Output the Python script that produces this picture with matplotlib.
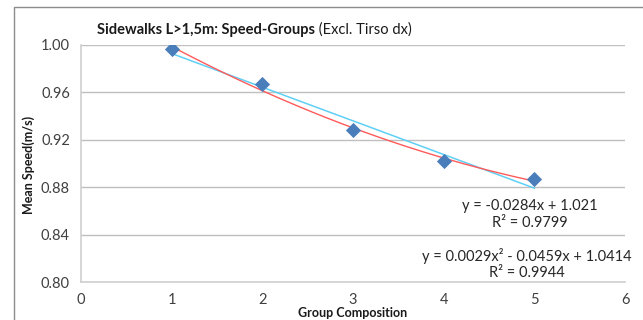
import numpy as np
import matplotlib.pyplot as plt
from matplotlib.patches import Rectangle

# data
group_sizes = [1, 2, 3, 4, 5]
mean_speed = [0.9964, 0.9668, 0.9280, 0.9020, 0.8868]

lin_label = 'y = -0.0284x + 1.021\nR² = 0.9799'
quad_label = 'y = 0.0029x² - 0.0459x + 1.0414\nR² = 0.9944'

x_ticks = [0, 1, 2, 3, 4, 5, 6]
y_ticks = [0.80, 0.84, 0.88, 0.92, 0.96, 1.00]

plt.rcParams['font.family'] = ['Lato', 'DejaVu Sans']

fig = plt.figure(figsize=(6.43, 3.2), dpi=100)
ax = fig.add_axes([81 / 643, 1 - 282 / 320, 544 / 643, 237 / 320])

# outer chart border (cut off at right and bottom like the source)
fig.patches.append(Rectangle((14 / 643, -0.1), 1.2, 1 - 7 / 320 + 0.1,
                             transform=fig.transFigure, fill=False,
                             edgecolor='#8c8c8c', linewidth=1.0))

# trendlines
xs = np.linspace(1, 5, 100)
lin = np.polyfit(group_sizes, mean_speed, 1)
quad = np.polyfit(group_sizes, mean_speed, 2)
ax.plot(xs, np.polyval(lin, xs), color='#5fd0f5', linewidth=1.1, zorder=3)
ax.plot(xs, np.polyval(quad, xs), color='#ff5a5a', linewidth=1.0, zorder=4)
ax.scatter(group_sizes, mean_speed, marker='D', s=60, color='#4a7ebb',
           zorder=5, linewidths=0)

ax.set_xlim(0, 6)
ax.set_ylim(0.80, 1.00)
ax.set_xticks(x_ticks)
ax.set_yticks(y_ticks)
ax.set_yticklabels(['%.2f' % v for v in y_ticks])
ax.tick_params(length=0, labelsize=10.5, colors='#404040', pad=8)
ax.grid(axis='y', color='#bfbfbf', linewidth=1.0)
ax.set_axisbelow(True)
for side in ['top', 'right']:
    ax.spines[side].set_visible(False)
for side in ['left', 'bottom']:
    ax.spines[side].set_color('#d0d0d0')
    ax.spines[side].set_linewidth(1.2)

ax.text(4.95, 0.857, lin_label, ha='center', va='center', fontsize=10.5,
        color='#262626', linespacing=1.25)
ax.text(4.92, 0.8152, quad_label, ha='center', va='center', fontsize=10.5,
        color='#262626', linespacing=1.25)

fig.text(29 / 643, 1 - 165 / 320, 'Mean Speed(m/s)', rotation=90,
         ha='center', va='center', fontsize=9, fontweight='bold',
         color='#1a1a1a')
fig.text(353 / 643, 1 - 313 / 320, 'Group Composition', ha='center',
         va='center', fontsize=9, fontweight='bold', color='#1a1a1a')

t1 = fig.text(97 / 643, 1 - 34 / 320, 'Sidewalks L>1,5m: Speed-Groups',
              fontsize=10.5, fontweight='bold', color='#1a1a1a',
              va='baseline')
ax.annotate(' (Excl. Tirso dx)', xy=(1, 0), xycoords=t1, va='bottom',
            fontsize=10.5, color='#1a1a1a', annotation_clip=False)

fig.savefig('out.png', dpi=100)
